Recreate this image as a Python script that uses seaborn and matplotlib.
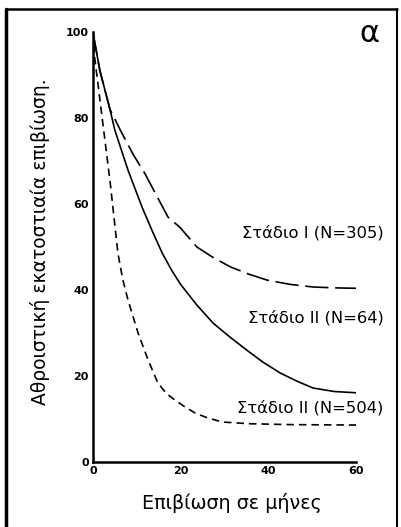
import matplotlib
matplotlib.use("Agg")
import matplotlib.pyplot as plt
from matplotlib.lines import Line2D
import seaborn as sns

# survival curves (months, cumulative % survival)
months_st1 = [0, 1.6, 3.9, 6.6, 9.2, 11.9, 14.5, 17.1, 19.9, 23.7, 27.5, 31.3, 35.5, 39.7, 45, 50.2, 55, 60]
surv_st1 = [100, 91, 82, 76.5, 71.5, 67, 62, 57, 54.5, 50, 47.5, 45.4, 43.7, 42.3, 41.3, 40.7, 40.5, 40.4]

months_st2_64 = [0, 1.6, 3.9, 5.0, 8.0, 11.2, 13.5, 15.8, 18, 20, 23.7, 27.4, 31.3, 35.1, 38.8, 42.7, 46.5, 50.2, 55, 60]
surv_st2_64 = [100, 91, 82, 77.2, 67.9, 59.3, 53.8, 48.6, 44.5, 41.3, 36.5, 32.3, 29, 26, 23.2, 20.7, 18.8, 17.2, 16.4, 16.1]

months_st2_504 = [0, 0.3, 2, 4, 5.7, 6.8, 8.0, 10.3, 12.6, 14.8, 16.7, 18.7, 21, 23.3, 26, 29.5, 35.8, 45, 60]
surv_st2_504 = [100, 95, 81, 64.5, 48.6, 42.5, 37.7, 30, 23.7, 18.4, 16.0, 14.4, 12.8, 11.4, 10.3, 9.3, 8.9, 8.7, 8.6]

labels = ["Στάδιο I (N=305)", "Στάδιο II (N=64)", "Στάδιο II (N=504)"]
label_y = [53.3, 33.5, 12.6]
x_ticks = [0, 20, 40, 60]
y_ticks = [0, 20, 40, 60, 80, 100]

sns.set_style("white")
plt.rcParams['font.family'] = ['DejaVu Sans']
plt.rcParams['text.color'] = 'black'
plt.rcParams['axes.labelcolor'] = 'black'

fig = plt.figure(figsize=(4.02, 5.27), dpi=100)
ax = fig.add_axes([0.231, 0.1233, 0.655, 0.816])

lw = 1.2
sns.lineplot(x=months_st1, y=surv_st1, ax=ax, color="black", lw=lw, sort=False,
             linestyle=(0, (14, 4)))
sns.lineplot(x=months_st2_64, y=surv_st2_64, ax=ax, color="black", lw=lw, sort=False)
sns.lineplot(x=months_st2_504, y=surv_st2_504, ax=ax, color="black", lw=lw, sort=False,
             linestyle=(0, (4.5, 3)))

for txt, yy in zip(labels, label_y):
    ax.text(66.2, yy, txt, ha="right", va="center", fontsize=11.8, color="black", clip_on=False)

ax.set_xlim(0, 60)
ax.set_ylim(0, 100)
ax.set_xticks(x_ticks)
ax.set_yticks(y_ticks)
ax.set_xticks(range(0, 61, 10), minor=True)
ax.set_yticks(range(0, 101, 10), minor=True)
ax.tick_params(which="both", direction="in", length=4, width=1.2, colors="black",
               labelsize=8, pad=3)
for lab in ax.get_xticklabels() + ax.get_yticklabels():
    lab.set_fontweight("bold")

sns.despine(ax=ax)
for side in ["left", "bottom"]:
    ax.spines[side].set_linewidth(1.8)
    ax.spines[side].set_color("black")

ax.set_xlabel("Επιβίωση σε μήνες", fontsize=13.8, va="center")
ax.xaxis.set_label_coords(0.528, -0.095)
ax.set_ylabel("Αθροιστική εκατοστιαία επιβίωση.", fontsize=13.5, va="center")
ax.yaxis.set_label_coords(-0.2015, 0.512)

fig.text(0.92, 0.937, "α", fontsize=22, ha="center", va="center", color="black")

# scanned page frame
fig.add_artist(Line2D([6 / 402, 6 / 402], [0, 1 - 9 / 527], transform=fig.transFigure,
                      color="black", lw=2.5))
fig.add_artist(Line2D([6 / 402, 397 / 402], [1 - 9 / 527, 1 - 9 / 527], transform=fig.transFigure,
                      color="black", lw=1.8))
fig.add_artist(Line2D([397 / 402, 397 / 402], [0, 1 - 9 / 527], transform=fig.transFigure,
                      color="black", lw=1.5))

fig.savefig("out.png", dpi=100)
